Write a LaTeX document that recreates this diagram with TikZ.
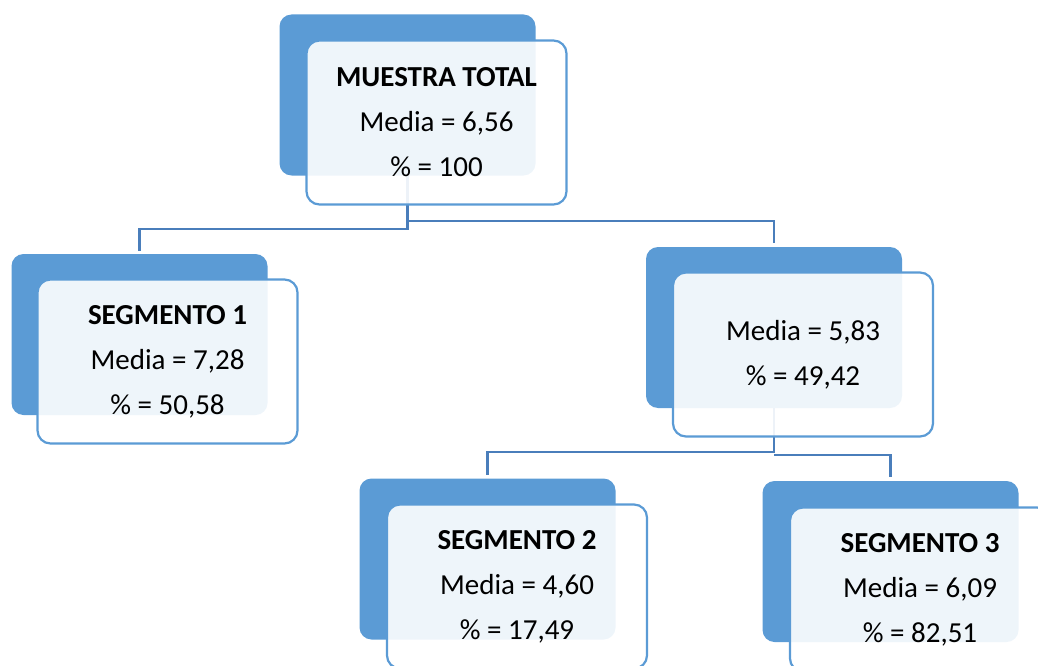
\documentclass[tikz,border=0pt]{standalone}
\usepackage{fontspec}
\setmainfont{Carlito}
\definecolor{cardblue}{HTML}{5B9BD5}
\definecolor{linkblue}{HTML}{4A7EBB}

\begin{document}
\begin{tikzpicture}[x=1pt,y=-1pt]
\tikzstyle{backbox}=[fill=cardblue, rounded corners=12pt, minimum width=256pt, minimum height=161pt, inner sep=0pt]
\tikzstyle{frontbox}=[draw=cardblue, line width=2.2pt, fill=white, fill opacity=0.9, text opacity=1, rounded corners=13pt, minimum width=260pt, minimum height=164pt, align=center, font=\fontsize{29}{45}\selectfont, inner sep=0pt]
\tikzstyle{conn}=[draw=linkblue, line width=2.4pt]
\clip (0,0) rectangle (1038,666);
% back cards
\node[backbox] (tot-b) at (407.5,95) {};
\node[backbox] (seg1-b) at (139.5,334.5) {};
\node[backbox] (mid-b) at (774,327.5) {};
\node[backbox] (seg2-b) at (487.5,559) {};
\node[backbox] (seg3-b) at (890.5,561.5) {};
% links
\draw[conn] (tot-b.south) -- ++(0,53) -| ([yshift=3pt]seg1-b.north);
\draw[conn] ([yshift=-45pt]tot-b.south) -| ([yshift=4pt]mid-b.north);
\draw[conn] (mid-b.south) -- ++(0,44) -| ([yshift=3pt]seg2-b.north);
\draw[conn] ([yshift=-47pt]mid-b.south) -| ([yshift=4pt]seg3-b.north);
% front cards
\node[frontbox] (tot) at (436.5,122.5) {\textbf{MUESTRA TOTAL}\\Media = 6,56\\\% = 100};
\node[frontbox] (seg1) at (167.5,361.5) {\textbf{SEGMENTO 1}\\Media = 7,28\\\% = 50,58};
\node[frontbox] (mid) at (803,354.5) {Media = 5,83\\\% = 49,42};
\node[frontbox] (seg2) at (517,586.5) {\textbf{SEGMENTO 2}\\Media = 4,60\\\% = 17,49};
\node[frontbox] (seg3) at (920,589.5) {\textbf{SEGMENTO 3}\\Media = 6,09\\\% = 82,51};
\end{tikzpicture}
\end{document}
